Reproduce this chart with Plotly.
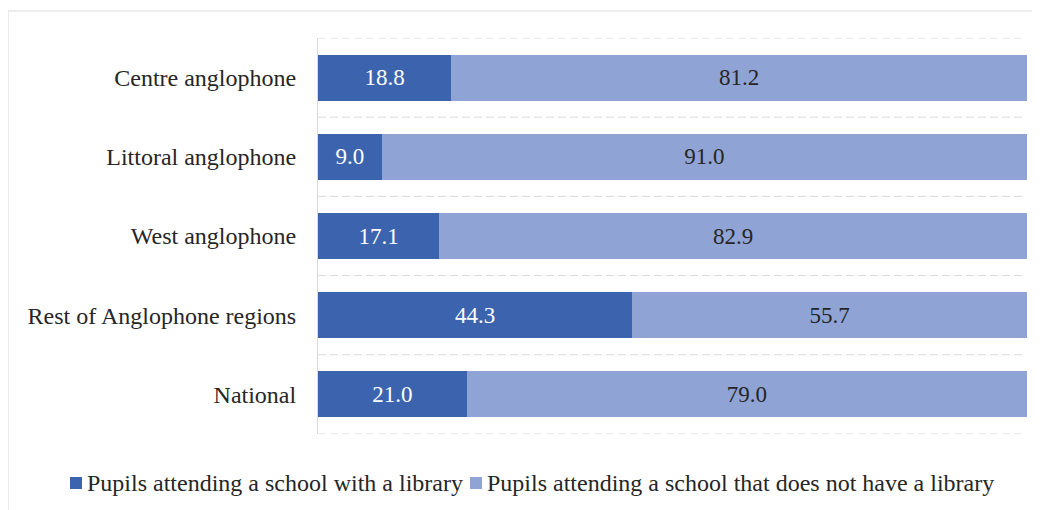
import plotly.graph_objects as go

categories = ["Centre anglophone", "Littoral anglophone", "West anglophone",
              "Rest of Anglophone regions", "National"]
with_library = [18.8, 9.0, 17.1, 44.3, 21.0]
without_library = [81.2, 91.0, 82.9, 55.7, 79.0]
series_names = ["Pupils attending a school with a library",
                "Pupils attending a school that does not have a library"]

FONT = "Liberation Serif"
DARK = "#3C64AE"
LIGHT = "#8FA3D4"
TXT = "#262626"

n = len(categories)
ypos = list(range(n))[::-1]  # first category at top

# page has an 8px body margin: figure origin sits at (8, 8) in the window
W, H = 1032, 502
ML, MR, MT, MB = 310, 13, 30, 76
PW, PH = W - ML - MR, H - MT - MB


def px_x(px):
    return (px - 8 - ML) / PW


def px_y(py):
    return 1 - (py - 8 - MT) / PH


fig = go.Figure()
fig.add_trace(go.Bar(
    y=ypos, x=with_library, orientation="h", name=series_names[0],
    marker=dict(color=DARK, line=dict(width=0)),
    text=[f"{v:.1f}" for v in with_library], textposition="inside",
    insidetextanchor="middle", textfont=dict(family=FONT, size=23, color="white"),
    width=0.58, showlegend=False,
))
fig.add_trace(go.Bar(
    y=ypos, x=without_library, orientation="h", name=series_names[1],
    marker=dict(color=LIGHT, line=dict(width=0)),
    text=[f"{v:.1f}" for v in without_library], textposition="inside",
    insidetextanchor="middle", textfont=dict(family=FONT, size=23, color=TXT),
    width=0.58, showlegend=False,
))

boundaries = [i - 0.5 for i in range(n + 1)]

shapes = [dict(type="rect", xref="paper", yref="paper",
               x0=px_x(8), x1=1.05, y0=-0.3, y1=px_y(11),
               line=dict(color="#D9D9D9", width=1), fillcolor="rgba(0,0,0,0)",
               layer="below")]
# dashed gridlines between categories
for b in boundaries:
    shapes.append(dict(type="line", xref="paper", yref="y", x0=0, x1=0.995, y0=b, y1=b,
                       line=dict(color="#D9D9D9", width=1, dash="8px,4px"),
                       layer="below"))

# legend drawn as squares + text
leg_colors = [DARK, LIGHT]
leg_sq_px = [70, 470]
annotations = []
for name, col, sx in zip(series_names, leg_colors, leg_sq_px):
    shapes.append(dict(type="rect", xref="paper", yref="paper",
                       x0=px_x(sx), x1=px_x(sx + 12), y0=px_y(489), y1=px_y(477),
                       line=dict(width=0), fillcolor=col))
    annotations.append(dict(xref="paper", yref="paper", x=px_x(sx + 15), y=px_y(483),
                            text=name, showarrow=False, xanchor="left", yanchor="middle",
                            font=dict(family=FONT, size=24, color=TXT)))

fig.update_layout(
    barmode="stack",
    width=W, height=H,
    margin=dict(l=ML, r=MR, t=MT, b=MB),
    paper_bgcolor="white", plot_bgcolor="white",
    font=dict(family=FONT, size=24, color=TXT),
    uniformtext=dict(mode="show", minsize=10),
    showlegend=False,
    xaxis=dict(range=[0, 100], showgrid=False, showticklabels=False, zeroline=False,
               showline=False, ticks=""),
    yaxis=dict(range=[-0.5, n - 0.5], tickvals=ypos, ticktext=categories,
               showgrid=False, zeroline=False, showline=True, linecolor="#D9D9D9",
               linewidth=1, ticks="", ticklabelstandoff=16,
               tickfont=dict(family=FONT, size=24, color=TXT)),
    shapes=shapes,
    annotations=annotations,
)

fig.write_html("out.html")
